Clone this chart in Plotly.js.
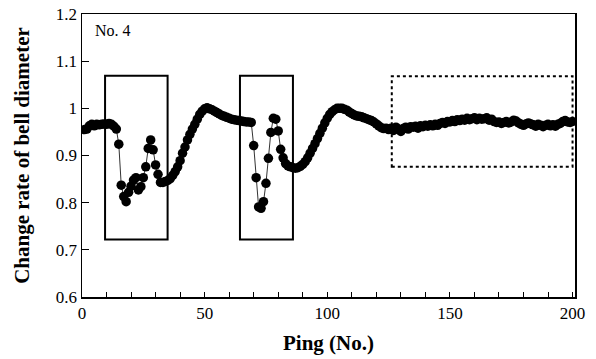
<!DOCTYPE html>
<html>
<head>
<meta charset="utf-8">
<script src="https://cdn.plot.ly/plotly-3.0.1.min.js"></script>
<style>html,body{margin:0;padding:0;background:#fff;}#chart{width:596px;height:359px;}</style>
</head>
<body>
<div id="chart"></div>
<script>
// Change rate of bell diameter, ping 1..200
const rateValues = [
  0.955, 0.956, 0.963, 0.966, 0.963, 0.966, 0.965, 0.966, 0.967, 0.966,
  0.968, 0.966, 0.962, 0.956, 0.924, 0.837, 0.813, 0.802, 0.822, 0.835,
  0.848, 0.853, 0.827, 0.834, 0.853, 0.876, 0.915, 0.933, 0.912, 0.880,
  0.860, 0.843, 0.843, 0.845, 0.847, 0.851, 0.858, 0.866, 0.876, 0.889,
  0.905, 0.918, 0.933, 0.945, 0.956, 0.966, 0.977, 0.987, 0.994, 0.999,
  1.001, 0.999, 0.997, 0.994, 0.991, 0.988, 0.985, 0.983, 0.981, 0.979,
  0.977, 0.976, 0.975, 0.974, 0.973, 0.972, 0.971, 0.971, 0.970, 0.921,
  0.853, 0.791, 0.788, 0.802, 0.841, 0.894, 0.949, 0.979, 0.977, 0.952,
  0.913, 0.895, 0.883, 0.878, 0.876, 0.874, 0.873, 0.874, 0.877, 0.881,
  0.887, 0.895, 0.905, 0.915, 0.925, 0.936, 0.947, 0.958, 0.969, 0.979,
  0.987, 0.993, 0.997, 1.000, 1.000, 1.000, 0.998, 0.996, 0.992, 0.989,
  0.986, 0.984, 0.983, 0.982, 0.980, 0.978, 0.976, 0.974, 0.971, 0.967,
  0.963, 0.959, 0.957, 0.958, 0.955, 0.958, 0.953, 0.960, 0.956, 0.951,
  0.957, 0.960, 0.956, 0.961, 0.960, 0.962, 0.958, 0.963, 0.961, 0.964,
  0.962, 0.965, 0.963, 0.966, 0.964, 0.968, 0.970, 0.968, 0.972, 0.971,
  0.974, 0.972, 0.976, 0.974, 0.977, 0.975, 0.979, 0.976, 0.978, 0.980,
  0.976, 0.979, 0.977, 0.978, 0.980, 0.975, 0.977, 0.972, 0.970, 0.971,
  0.968, 0.970, 0.972, 0.969, 0.971, 0.975, 0.973, 0.969, 0.966, 0.964,
  0.967, 0.969, 0.967, 0.965, 0.962, 0.966, 0.964, 0.961, 0.964, 0.966,
  0.963, 0.965, 0.962, 0.966, 0.968, 0.972, 0.974, 0.971, 0.970, 0.972
];
const pingNumbers = rateValues.map((v, i) => i + 1);

// Highlight boxes (data coordinates)
const boxX0 = [9.4, 64.4, 126.3];
const boxX1 = [34.9, 86.0, 200.0];
const boxY0 = [0.722, 0.722, 0.876];
const boxY1 = [1.069, 1.069, 1.068];
const boxDash = ['solid', 'solid', 'dot'];

const xTickVals = [0, 50, 100, 150, 200];
const yTickVals = [0.6, 0.7, 0.8, 0.9, 1.0, 1.1, 1.2];
const yTickText = ['0.6', '0.7', '0.8', '0.9', '1', '1.1', '1.2'];

const FONT = 'Liberation Serif, Times New Roman, serif';

const trace = {
  x: pingNumbers,
  y: rateValues,
  type: 'scatter',
  mode: 'lines+markers',
  line: {color: '#333', width: 1},
  marker: {color: '#000', size: 9.5},
  hoverinfo: 'skip'
};

const shapes = boxX0.map((x0, i) => ({
  type: 'rect', xref: 'x', yref: 'y',
  x0: x0, x1: boxX1[i], y0: boxY0[i], y1: boxY1[i],
  line: {color: '#000', width: 2, dash: boxDash[i]},
  fillcolor: 'rgba(0,0,0,0)'
}));

const layout = {
  width: 596, height: 359,
  margin: {l: 82, r: 21, t: 14, b: 62},
  paper_bgcolor: '#fff', plot_bgcolor: '#fff',
  font: {family: FONT, color: '#000', size: 17},
  showlegend: false,
  xaxis: {
    range: [0, 201],
    tickvals: xTickVals,
    ticks: 'inside', ticklen: 5, tickwidth: 1, tickcolor: '#000',
    minor: {dtick: 10, tick0: 0, ticks: 'inside', ticklen: 5, tickwidth: 1, tickcolor: '#000'},
    showline: true, linecolor: '#000', linewidth: 1.5, mirror: true,
    showgrid: false, zeroline: false,
    tickfont: {family: FONT, size: 17, color: '#000'},
    title: {text: '<b>Ping (No.)</b>', font: {family: FONT, size: 21, color: '#000'}, standoff: 13}
  },
  yaxis: {
    range: [0.6, 1.2],
    tickvals: yTickVals, ticktext: yTickText,
    ticks: 'inside', ticklen: 7, tickwidth: 1, tickcolor: '#000',
    showline: true, linecolor: '#000', linewidth: 1.5, mirror: true,
    showgrid: false, zeroline: false,
    tickfont: {family: FONT, size: 17, color: '#000'},
    title: {text: '<b>Change rate of bell diameter</b>', font: {family: FONT, size: 21, color: '#000'}, standoff: 20}
  },
  shapes: shapes,
  annotations: [{
    text: 'No. 4', xref: 'paper', yref: 'paper', x: 0.022, y: 0.98,
    xanchor: 'left', yanchor: 'top', showarrow: false,
    font: {family: FONT, size: 16, color: '#000'}
  }]
};

Plotly.newPlot('chart', [trace], layout, {displayModeBar: false, staticPlot: true});
</script>
</body>
</html>
